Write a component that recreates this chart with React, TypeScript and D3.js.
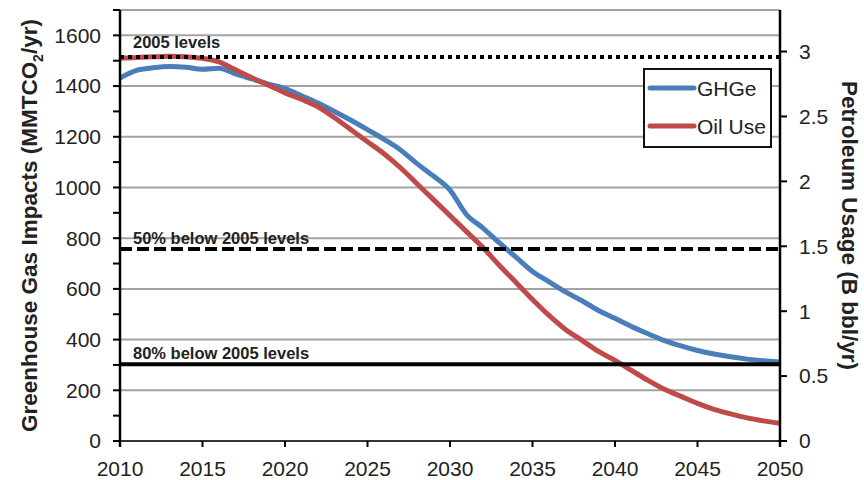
import React from "react";
import * as d3 from "d3";

const years = d3.range(2010, 2051);
const ghge = [
  1432, 1462, 1472, 1477, 1474, 1466, 1470, 1448, 1428, 1408,
  1390, 1362, 1333, 1300, 1265, 1228, 1190, 1148, 1094, 1045,
  990, 893, 840, 781, 725, 669, 628, 588, 553, 515,
  484, 452, 423, 396, 375, 357, 343, 332, 323, 317, 312,
];
const oil = [
  2.948, 2.955, 2.959, 2.963, 2.959, 2.948, 2.921, 2.859, 2.798, 2.74,
  2.682, 2.632, 2.575, 2.49, 2.398, 2.305, 2.213, 2.105, 1.982, 1.859,
  1.736, 1.613, 1.49, 1.352, 1.221, 1.09, 0.967, 0.859, 0.775, 0.69,
  0.621, 0.544, 0.467, 0.398, 0.344, 0.29, 0.244, 0.209, 0.178, 0.155, 0.136,
];
const leftTicks = [0, 200, 400, 600, 800, 1000, 1200, 1400, 1600];
const leftMinor = [100, 300, 500, 700, 900, 1100, 1300, 1500, 1700];
const rightTicks = [0, 0.5, 1, 1.5, 2, 2.5, 3];
const xTicks = [2010, 2015, 2020, 2025, 2030, 2035, 2040, 2045, 2050];
const level2005 = 1515;
const refLines = [
  { label: "2005 levels", value: level2005, dash: "4,4" },
  { label: "50% below 2005 levels", value: level2005 * 0.5, dash: "12,5" },
  { label: "80% below 2005 levels", value: level2005 * 0.2, dash: "" },
];
const legendItems = [
  { label: "GHGe", color: "#4a7ebb" },
  { label: "Oil Use", color: "#be4b48" },
];

const FONT = "'Liberation Sans', Arial, Helvetica, sans-serif";
const labelOffsets = [9, 5, 5];

export default function App() {
  const x = d3.scaleLinear().domain([2010, 2050]).range([120, 780]);
  const yL = d3.scaleLinear().domain([0, 1700]).range([441, 10]);
  const yR = d3.scaleLinear().domain([0, 3.32]).range([441, 10]);

  const lineL = d3
    .line<number>()
    .x((_, i) => x(years[i]))
    .y((d) => yL(d))
    .curve(d3.curveMonotoneX);
  const lineR = d3
    .line<number>()
    .x((_, i) => x(years[i]))
    .y((d) => yR(d))
    .curve(d3.curveMonotoneX);

  const [x0, x1] = x.range();
  const midY = (yL(0) + yL(1700)) / 2;

  return (
    <svg
      width={864}
      height={480}
      style={{ position: "absolute", left: 0, top: 0, background: "#fff" }}
      fontFamily={FONT}
    >
      {[...leftTicks.filter((t) => t > 0), 1700].map((t) => (
        <line key={"g" + t} x1={x0} x2={x1} y1={yL(t)} y2={yL(t)} stroke="#a3a3a3" strokeWidth={2} />
      ))}
      <path d={lineL(ghge) || ""} fill="none" stroke={legendItems[0].color} strokeWidth={5} />
      <path d={lineR(oil) || ""} fill="none" stroke={legendItems[1].color} strokeWidth={5} />
      {refLines.map((r, i) => (
        <g key={r.label}>
          <line
            x1={x0}
            x2={x1}
            y1={yL(r.value)}
            y2={yL(r.value)}
            stroke="#000"
            strokeWidth={4}
            strokeDasharray={r.dash || undefined}
          />
          <text x={133} y={yL(r.value) - labelOffsets[i]} fontSize={16.5} fontWeight="bold" fill="#222">
            {r.label}
          </text>
        </g>
      ))}
      <line x1={x0} x2={x1} y1={yL(0)} y2={yL(0)} stroke="#333" strokeWidth={2} />
      {xTicks.map((t) => (
        <g key={"x" + t}>
          <line x1={x(t)} x2={x(t)} y1={yL(0)} y2={yL(0) + 6} stroke="#000" strokeWidth={2} />
          <text x={x(t)} y={476} fontSize={21} textAnchor="middle" fill="#222">
            {t}
          </text>
        </g>
      ))}
      <line x1={x0} x2={x0} y1={yL(1700)} y2={yL(0) + 6} stroke="#000" strokeWidth={2.5} />
      {[...leftTicks, ...leftMinor].map((t) => (
        <line key={"lt" + t} x1={x0 - 7} x2={x0} y1={yL(t)} y2={yL(t)} stroke="#000" strokeWidth={2} />
      ))}
      {leftTicks.map((t) => (
        <text key={"ll" + t} x={101} y={yL(t)} dy="0.35em" fontSize={21} textAnchor="end" fill="#222">
          {t}
        </text>
      ))}
      <line x1={x1} x2={x1} y1={yR(3.32)} y2={yR(0) + 6} stroke="#000" strokeWidth={2.5} />
      {rightTicks.map((t) => (
        <g key={"r" + t}>
          <line x1={x1} x2={x1 + 7} y1={yR(t)} y2={yR(t)} stroke="#000" strokeWidth={2} />
          <text x={799} y={yR(t)} dy="0.35em" fontSize={21} fill="#222">
            {t}
          </text>
        </g>
      ))}
      <text
        transform={`translate(37, ${midY}) rotate(-90)`}
        textAnchor="middle"
        fontSize={22.5}
        fontWeight="bold"
        fill="#222"
      >
        Greenhouse Gas Impacts (MMTCO<tspan fontSize={14} dy={6}>2</tspan>
        <tspan dy={-6}>/yr)</tspan>
      </text>
      <text
        transform={`translate(842, ${midY}) rotate(90)`}
        textAnchor="middle"
        fontSize={22.5}
        fontWeight="bold"
        fill="#222"
      >
        Petroleum Usage (B bbl/yr)
      </text>
      <rect x={644} y={69} width={127} height={78} fill="#fff" stroke="#111" strokeWidth={2} />
      {legendItems.map((l, i) => (
        <g key={l.label}>
          <line x1={650} x2={694} y1={88 + i * 38} y2={88 + i * 38} stroke={l.color} strokeWidth={5} strokeLinecap="round" />
          <text x={697} y={88 + i * 38} dy="0.36em" fontSize={21} fill="#222">
            {l.label}
          </text>
        </g>
      ))}
    </svg>
  );
}
